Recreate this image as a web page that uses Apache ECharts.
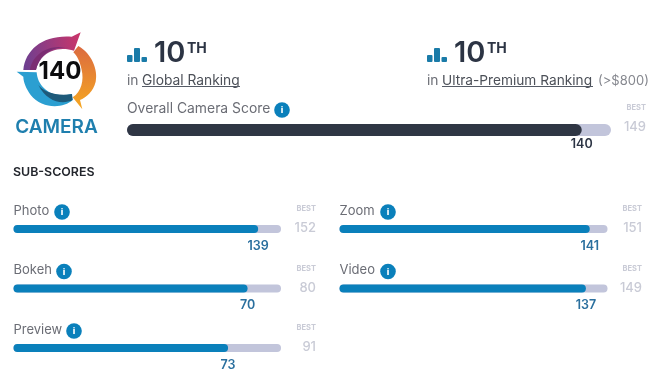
<!DOCTYPE html>
<html>
<head>
<meta charset="utf-8">
<title>Camera score</title>
<script src="https://cdn.jsdelivr.net/npm/echarts@6/dist/echarts.min.js"></script>
<style>
html,body{margin:0;padding:0;background:#fff}
#chart{width:650px;height:384px}
</style>
</head>
<body>
<div id="chart"></div>
<script>
// data
const overallName = 'Overall Camera Score'
const overallScore = [140]
const overallBest = [149]
const subNames = ['Photo', 'Bokeh', 'Preview', 'Zoom', 'Video']
const subScores = [139, 70, 73, 141, 137]
const subBests = [152, 80, 91, 151, 149]

// layout, one row per bar: left, top, bar width, bar height, info icon x, best right edge
const FONT = 'Inter, "Noto Sans", sans-serif'
const rows = [
  {x: 127, y: 124, w: 484, h: 12, icon: 282, right: 646},
  {x: 13.5, y: 225, w: 267.5, h: 8, icon: 62, right: 316},
  {x: 13.5, y: 284.5, w: 267.5, h: 8, icon: 64, right: 316},
  {x: 13.5, y: 344, w: 267.5, h: 8, icon: 74, right: 316},
  {x: 339.5, y: 225, w: 268, h: 8, icon: 388, right: 642},
  {x: 339.5, y: 284.5, w: 268, h: 8, icon: 388, right: 642}
]
const names = [overallName].concat(subNames)
const scores = overallScore.concat(subScores)
const bests = overallBest.concat(subBests)

const grid = [], xAxis = [], yAxis = [], series = [], graphic = []

function txt(x, y, text, size, color, weight, align) {
  graphic.push({
    type: 'text', x: x, y: y, silent: true,
    style: {text: text, fontFamily: FONT, fontSize: size, fill: color, fontWeight: weight || 400,
      align: align || 'left', verticalAlign: 'middle'}
  })
}
function rect(x, y, w, h, color) {
  graphic.push({type: 'rect', silent: true, shape: {x: x, y: y, width: w, height: h, r: 1}, style: {fill: color}})
}
function underline(x1, x2, y) {
  graphic.push({type: 'line', silent: true, shape: {x1: x1, y1: y, x2: x2, y2: y}, style: {stroke: '#555b66', lineWidth: 1}})
}
// logo shapes are traced at 3x, so scale them back down
let logoCount = 0
function logoPath(d, fill) {
  const name = 'logoPart' + logoCount++
  echarts.graphic.registerShape(name, echarts.graphic.extendPath(d, {}))
  graphic.push({type: name, silent: true, x: 0, y: 20, scaleX: 1 / 3, scaleY: 1 / 3, style: {fill: fill}})
}
function grad(x0, y0, x1, y1, c0, c1) {
  return new echarts.graphic.LinearGradient(x0, y0, x1, y1, [{offset: 0, color: c0}, {offset: 1, color: c1}])
}

// bars
rows.forEach(function (r, i) {
  const main = i === 0 ? '#2f3644' : '#0a80bb'
  grid.push({left: r.x, top: r.y, width: r.w, height: r.h, containLabel: false})
  xAxis.push({gridIndex: i, type: 'value', min: 0, max: bests[i], show: false})
  yAxis.push({gridIndex: i, type: 'category', data: [names[i]], show: false})
  series.push({
    type: 'bar', xAxisIndex: i, yAxisIndex: i, data: [bests[i]], barWidth: r.h, barGap: '-100%', silent: true,
    itemStyle: {color: '#c2c5db', borderRadius: r.h / 2}
  })
  series.push({
    type: 'bar', xAxisIndex: i, yAxisIndex: i, data: [scores[i]], barWidth: r.h, barGap: '-100%', silent: true,
    itemStyle: {color: main, borderRadius: r.h / 2},
    label: {
      show: true, position: ['100%', i === 0 ? 20 : 21], align: 'center', verticalAlign: 'middle',
      fontFamily: FONT, fontSize: 12.5, fontWeight: 600, color: i === 0 ? '#2c3444' : '#2a6f9e'
    }
  })
  // row texts
  const labelY = r.y - (i === 0 ? 15 : 14)
  txt(r.x, labelY, names[i], i === 0 ? 13.9 : 13, '#6b6d75')
  graphic.push({type: 'circle', silent: true, shape: {cx: r.icon, cy: labelY + 1, r: 7.8}, style: {fill: '#0a80bb'}})
  txt(r.icon, labelY + 1.5, 'i', 9, '#fff', 800, 'center')
  txt(r.right, r.y - 16, 'BEST', 7.5, '#c9cbd6', 700, 'right')
  txt(r.right, r.y + 3.5, String(bests[i]), 13, '#c9cbd6', 500, 'right')
})

// rankings
;[127, 427].forEach(function (x) {
  rect(x, 55, 5.5, 7, '#1a7ba8')
  rect(x + 7, 48, 6, 14, '#1a7ba8')
  rect(x + 14.5, 57, 5.5, 5, '#1a7ba8')
  txt(x + 27, 53.5, '10', 29, '#2c3444', 600)
  txt(x + 60, 48.5, 'TH', 14, '#2c3444', 700)
})
txt(127, 81, 'in', 13.8, '#6b6d75')
txt(142, 81, 'Global Ranking', 13.8, '#4c5058')
underline(142, 240, 86.5)
txt(427, 81, 'in', 13.8, '#6b6d75')
txt(442, 81, 'Ultra-Premium Ranking', 13.7, '#4c5058')
underline(442, 593, 86.5)
txt(598, 81, '(>$800)', 13, '#85878e')

txt(13, 172, 'SUB-SCORES', 12.4, '#23262d', 600)

// logo
logoPath('M70 150 C76 88 130 44 215 50 L242 37 L222 92 C190 82 150 85 125 115 C115 128 110 140 108 150 Z',
  grad(0, 0.5, 1, 0.3, '#6f3f90', '#c9356a'))
logoPath('M90 150 C96 108 140 70 205 84 C170 78 135 95 118 122 C112 133 110 142 108 150 Z', '#7b2d73')
logoPath('M235 78 C275 100 295 150 287 185 C280 215 258 232 240 240 L247 268 L218 232 C245 215 252 180 245 150 C240 125 230 105 220 97 Z',
  grad(0, 0, 0, 1, '#db6a40', '#f6a821'))
logoPath('M50 155 L110 157 C112 195 145 225 180 225 C195 225 205 225 215 222 L218 240 C190 266 126 268 92 225 C78 205 70 185 70 170 Z', '#2b9fd1')
logoPath('M115 195 C130 215 170 230 216 222 L218 240 C185 255 140 245 115 195 Z', '#1e5a7a')
txt(60, 71.5, String(overallScore[0]), 24, '#0c0c0e', 700, 'center')
txt(56.5, 127, 'CAMERA', 19, '#1f7fae', 600, 'center')

const chart = echarts.init(document.getElementById('chart'))
chart.setOption({
  animation: false,
  grid: grid,
  xAxis: xAxis,
  yAxis: yAxis,
  series: series,
  graphic: graphic
})
</script>
</body>
</html>
